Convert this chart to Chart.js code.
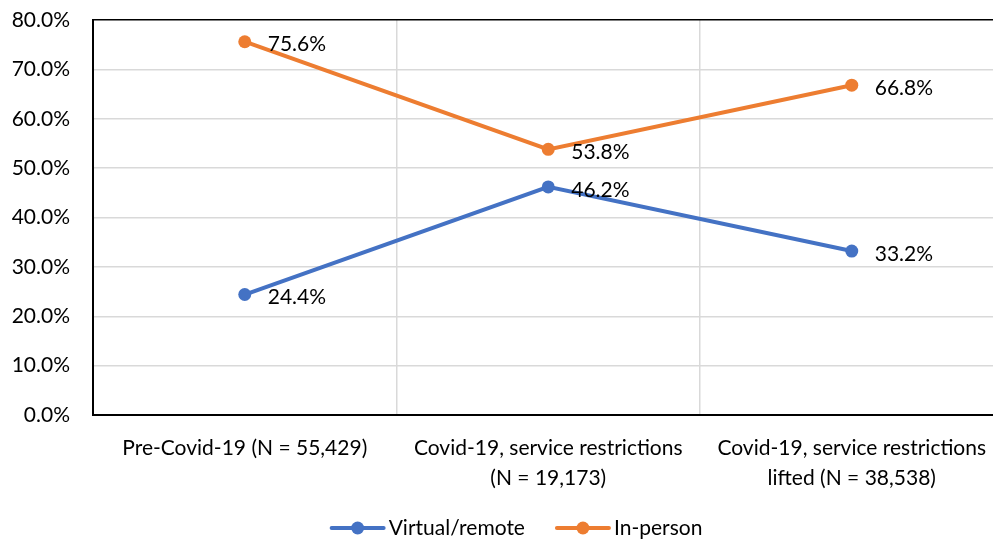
<!DOCTYPE html>
<html>
<head>
<meta charset="utf-8">
<script src="https://cdn.jsdelivr.net/npm/chart.js@4/dist/chart.umd.min.js"></script>
<style>
  html, body { margin: 0; padding: 0; overflow: hidden; background: #fff; }
  #wrap { width: 1032px; height: 542px; }
</style>
</head>
<body>
<div id="wrap"><canvas id="chart"></canvas></div>
<script>
const categories = [
  ["Pre-Covid-19 (N = 55,429)"],
  ["Covid-19, service restrictions", "(N = 19,173)"],
  ["Covid-19, service restrictions", "lifted (N = 38,538)"]
];
const virtualRemote = [24.4, 46.2, 33.2];
const inPerson = [75.6, 53.8, 66.8];
const seriesNames = ["Virtual/remote", "In-person"];
const seriesColors = ["#4472C4", "#ED7D31"];
const yMin = 0, yMax = 80, yStep = 10;

const FONT = "Lato, 'Open Sans', sans-serif";
const FONT_SIZE = 21;

// value labels to the right of each point
const valueLabels = {
  id: "valueLabels",
  afterDatasetsDraw(chart) {
    const ctx = chart.ctx;
    ctx.save();
    ctx.font = FONT_SIZE + "px " + FONT;
    ctx.fillStyle = "#000";
    ctx.textAlign = "left";
    ctx.textBaseline = "middle";
    chart.data.datasets.forEach((ds, i) => {
      chart.getDatasetMeta(i).data.forEach((pt, j) => {
        ctx.fillText(ds.data[j].toFixed(1) + "%", pt.x + 23, pt.y + 3);
      });
    });
    ctx.restore();
  }
};

// excel-style legend: line with a dot, then the name
const lineLegend = {
  id: "lineLegend",
  afterDraw(chart) {
    const ctx = chart.ctx;
    const markW = 56, gapText = 3, gapItem = 30;
    ctx.save();
    ctx.font = FONT_SIZE + "px " + FONT;
    ctx.textBaseline = "middle";
    ctx.textAlign = "left";
    const items = chart.data.datasets.map(ds => ({
      ds, w: markW + gapText + ctx.measureText(ds.label).width
    }));
    const total = items.reduce((a, it) => a + it.w, 0) + gapItem * (items.length - 1);
    let x = chart.width / 2 - total / 2;
    const y = chart.height - 14;
    items.forEach(({ ds, w }) => {
      ctx.strokeStyle = ds.borderColor;
      ctx.lineWidth = 4;
      ctx.lineCap = "round";
      ctx.beginPath(); ctx.moveTo(x + 2, y); ctx.lineTo(x + markW - 2, y); ctx.stroke();
      ctx.fillStyle = ds.borderColor;
      ctx.beginPath(); ctx.arc(x + markW / 2, y, 6.5, 0, Math.PI * 2); ctx.fill();
      ctx.fillStyle = "#000";
      ctx.fillText(ds.label, x + markW + gapText, y);
      x += w + gapItem;
    });
    ctx.restore();
  }
};

new Chart(document.getElementById("chart"), {
  type: "line",
  data: {
    labels: categories,
    datasets: [virtualRemote, inPerson].map((d, i) => ({
      label: seriesNames[i],
      data: d,
      borderColor: seriesColors[i],
      backgroundColor: seriesColors[i],
      pointBackgroundColor: seriesColors[i],
      borderWidth: 4,
      pointRadius: 6.5,
      pointBorderWidth: 0,
      tension: 0,
      clip: false
    }))
  },
  options: {
    responsive: true,
    maintainAspectRatio: false,
    animation: false,
    layout: { padding: { top: 20, left: 0, right: 28.5, bottom: 50 } },
    plugins: {
      tooltip: { enabled: false },
      legend: { display: false }
    },
    scales: {
      x: {
        offset: true,
        grid: { offset: true, color: "#d9d9d9", lineWidth: 1.5, drawTicks: false },
        border: { color: "#000", width: 2 },
        ticks: {
          color: "#000",
          padding: 19,
          maxRotation: 0,
          autoSkip: false,
          font: { family: FONT, size: FONT_SIZE, lineHeight: 1.4 }
        },
        afterFit: (s) => { s.height = 77; }
      },
      y: {
        min: yMin,
        max: yMax,
        grid: {
          drawTicks: false,
          lineWidth: 1.5,
          color: (c) => (c.tick && c.tick.value === yMax ? "#000" : "#d9d9d9")
        },
        border: { color: "#000", width: 2 },
        ticks: {
          stepSize: yStep,
          padding: 23,
          color: "#000",
          font: { family: FONT, size: FONT_SIZE },
          callback: (v) => v.toFixed(1) + "%"
        },
        afterFit: (s) => { s.width = 93; s.paddingTop = 0; s.paddingBottom = 0; }
      }
    }
  },
  plugins: [valueLabels, lineLegend]
});
</script>
</body>
</html>
